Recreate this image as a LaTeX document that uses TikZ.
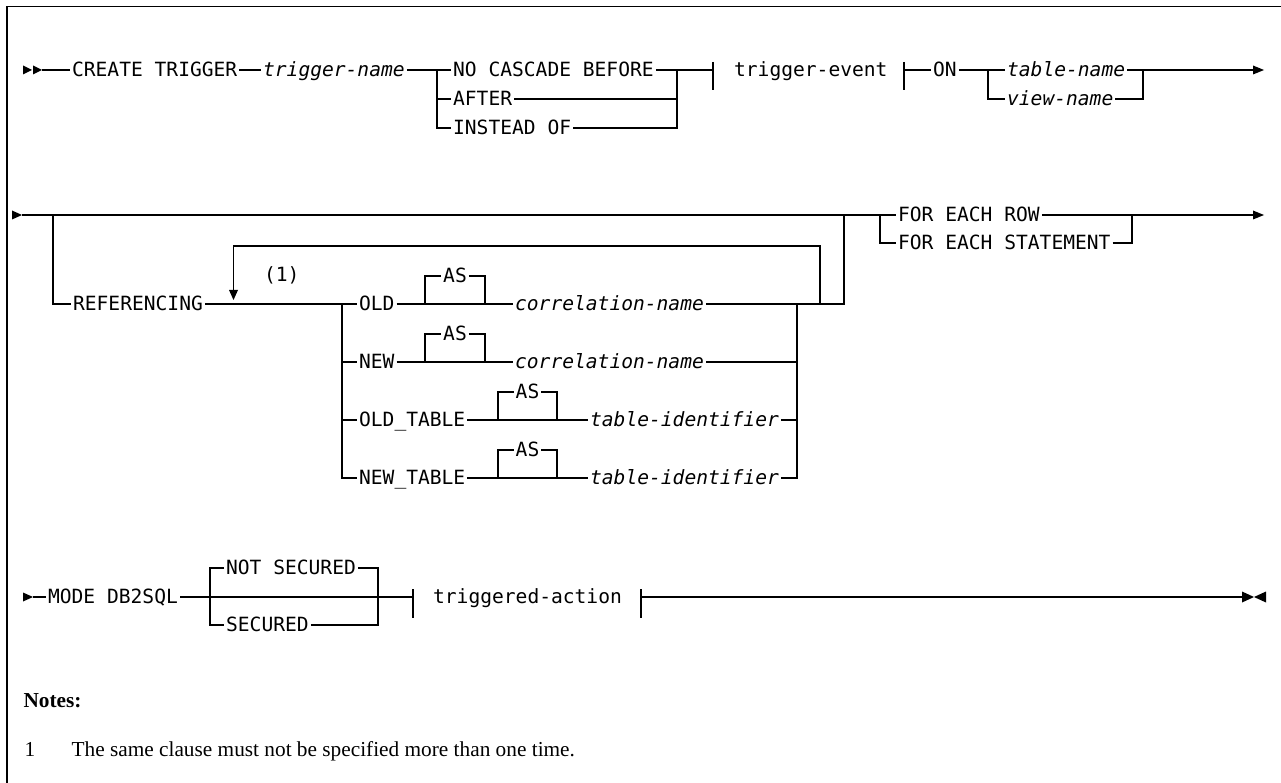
\documentclass[tikz,border=0pt]{standalone}
\usepackage{fontspec}
\setmainfont{Liberation Serif}
\newfontfamily\railfont{DejaVu Sans Mono}

\begin{document}
\begin{tikzpicture}[x=1pt, y=-1pt, line width=1.2pt,
    kw/.style={anchor=west, inner xsep=1.5pt, inner ysep=0pt, text height=15.5pt, text depth=2pt,
        font=\railfont\fontsize{19.6}{22}\selectfont},
    var/.style={kw, font=\railfont\itshape\fontsize{19.6}{22}\selectfont},
    note/.style={anchor=base west, inner sep=0pt, font=\fontsize{21.3}{25}\selectfont}]
    \useasboundingbox (0,0) rectangle (1281,783);

    % Frame
    \draw (7,783) -- (7,6.5) -- (1281,6.5);

    % Row 1
    \fill (23,65.5) -- (32,70) -- (23,74.5) -- cycle;
    \fill (33,65.5) -- (42,70) -- (33,74.5) -- cycle;
    \coordinate (s1) at (42,70);
    \node[kw] (ct) at (70,70) {CREATE TRIGGER};
    \node[var] (tn) at (261,70) {trigger-name};
    \coordinate (j1) at (437,70);
    \coordinate (k1) at (677,70);
    \node[kw] (ncb) at (451,70) {NO CASCADE BEFORE};
    \node[kw] (aft) at (451,99) {AFTER};
    \node[kw] (iof) at (451,128) {INSTEAD OF};
    \draw (s1) -- (ct.west);
    \draw (ct.east) -- (tn.west);
    \draw (tn.east) -- (ncb.west);
    \draw (j1) |- (aft.west);
    \draw (j1) |- (iof.west);
    \draw (aft.east) -| (k1);
    \draw (iof.east) -| (k1);
    \coordinate (t1) at (713,70);
    \draw (ncb.east) -- (t1);
    \draw (713,62) -- (713,90);
    \node[kw] (tev) at (732,70) {trigger-event};
    \coordinate (t2) at (904,70);
    \draw (904,62) -- (904,90);
    \node[kw] (on) at (931,70) {ON};
    \coordinate (j2) at (988,70);
    \coordinate (k2) at (1143,70);
    \coordinate (e1) at (1253,70);
    \node[var] (tbl) at (1005,70) {table-name};
    \node[var] (vw) at (1005,99) {view-name};
    \draw (t2) -- (on.west);
    \draw (on.east) -- (tbl.west);
    \draw (j2) |- (vw.west);
    \draw (vw.east) -| (k2);
    \draw (tbl.east) -- (e1);
    \fill (1253,65.5) -- (1264,70) -- (1253,74.5) -- cycle;

    % Row 2
    \fill (12,210.5) -- (22,215) -- (12,219.5) -- cycle;
    \coordinate (s2) at (22,215);
    \coordinate (o1) at (53,215);
    \coordinate (o2) at (844,215);
    \coordinate (o3) at (844,304);
    \coordinate (c1) at (342,304);
    \coordinate (r1) at (797,304);
    \coordinate (lp1) at (820,304);
    \coordinate (lp2) at (233.5,291);
    \coordinate (j4) at (880,215);
    \coordinate (k4) at (1132,215);
    \coordinate (e2) at (1253,215);
    \node[kw] (ref) at (71,304) {REFERENCING};
    \node[kw] (fn) at (262,275) {(1)};
    \node[kw] (old) at (357,304) {OLD};
    \node[kw] (new) at (357,362) {NEW};
    \node[kw] (oldt) at (357,420) {OLD\_TABLE};
    \node[kw] (newt) at (357,478) {NEW\_TABLE};
    \node[var] (cn1) at (513,304) {correlation-name};
    \node[var] (cn2) at (513,362) {correlation-name};
    \node[var] (ti1) at (588,420) {table-identifier};
    \node[var] (ti2) at (588,478) {table-identifier};
    \node[kw] (fer) at (896,215) {FOR EACH ROW};
    \node[kw] (fes) at (896,243) {FOR EACH STATEMENT};
    \draw (s2) -- (fer.west);
    \draw (o1) |- (ref.west);
    \draw (ref.east) -- (old.west);
    \draw (lp1) |- (233.5,246) -- (lp2);
    \fill (229,290) -- (238,290) -- (233.5,300) -- cycle;
    \draw (c1) |- (new.west);
    \draw (c1) |- (oldt.west);
    \draw (c1) |- (newt.west);
    \draw (old.east) -- (cn1.west);
    \draw (new.east) -- (cn2.west);
    \draw (oldt.east) -- (ti1.west);
    \draw (newt.east) -- (ti2.west);
    \foreach \n/\xa/\xb/\y in {1/425/485/304, 2/425/485/362, 3/498/557/420, 4/498/557/478} {
        \node[kw, anchor=center] (as\n) at ({(\xa+\xb)/2},{\y-28}) {AS};
        \draw (\xa,\y) |- (as\n.west);
        \draw (as\n.east) -| (\xb,\y);
    }
    \draw (cn1.east) -- (o3) -- (o2);
    \draw (cn2.east) -| (r1);
    \draw (ti1.east) -| (r1);
    \draw (ti2.east) -| (r1);
    \draw (fer.east) -- (e2);
    \draw (j4) |- (fes.west);
    \draw (fes.east) -| (k4);
    \fill (1253,210.5) -- (1264,215) -- (1253,219.5) -- cycle;

    % Row 3
    \fill (23,592.5) -- (33,597) -- (23,601.5) -- cycle;
    \coordinate (s3) at (33,597);
    \coordinate (g1) at (210,597);
    \coordinate (g2) at (378,597);
    \coordinate (t3) at (413,597);
    \coordinate (t4) at (641,597);
    \coordinate (e3) at (1242,597);
    \node[kw] (mode) at (46,597) {MODE DB2SQL};
    \node[kw] (nsec) at (224,568) {NOT SECURED};
    \node[kw] (sec) at (224,625) {SECURED};
    \node[kw] (tact) at (431,597) {triggered-action};
    \draw (s3) -- (mode.west);
    \draw (mode.east) -- (t3);
    \draw (nsec.west) -| (g1) |- (sec.west);
    \draw (nsec.east) -| (g2);
    \draw (sec.east) -| (g2);
    \draw (413,589) -- (413,618);
    \draw (641,589) -- (641,618);
    \draw (t4) -- (e3);
    \fill (1242,591.5) -- (1254,597) -- (1242,602.5) -- cycle;
    \fill (1266,591.5) -- (1254,597) -- (1266,602.5) -- cycle;

    % Notes
    \node[note, font=\fontsize{21.3}{25}\selectfont\bfseries] (notes) at (23,707) {Notes:};
    \node[note] (n1) at (24,756) {1};
    \node[note] (ntext) at (71,756) {The same clause must not be specified more than one time.};
\end{tikzpicture}
\end{document}
